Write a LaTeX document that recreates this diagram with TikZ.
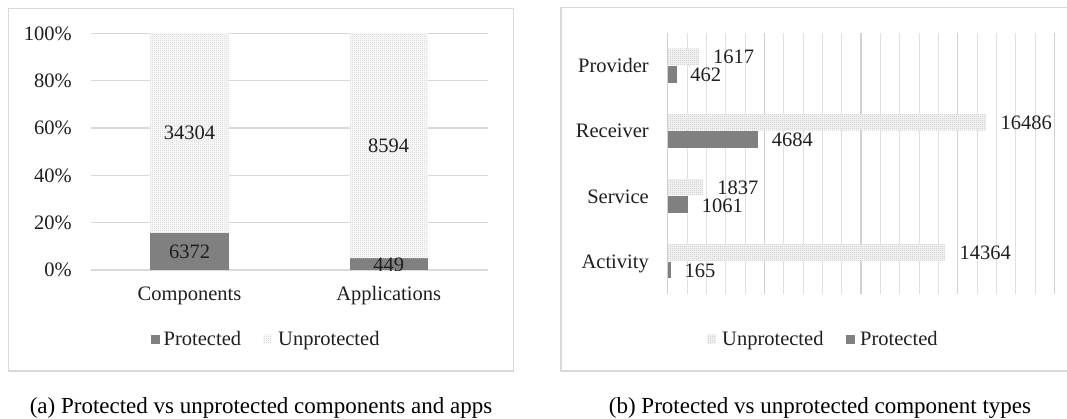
\documentclass[tikz,border=0pt]{standalone}
\usepackage{fontspec}
\setmainfont{Liberation Serif}
\usetikzlibrary{patterns}
\pgfdeclarepatternformonly{finedots}{\pgfpointorigin}{\pgfpoint{2pt}{2pt}}{\pgfpoint{2pt}{2pt}}{\pgfpathrectangle{\pgfpointorigin}{\pgfpoint{1pt}{1pt}}\pgfusepath{fill}}
\begin{document}
\begin{tikzpicture}[x=1pt,y=-1pt,
  frame/.style={draw=gray!30,line width=1.4pt},
  gridl/.style={draw=gray!30,line width=1.1pt},
  gridmin/.style={draw=gray!24,line width=1pt},
  gridmaj/.style={draw=gray!36,line width=1.3pt},
  prot/.style={fill=black!50},
  unprotL/.style={fill=gray!7,postaction={pattern=finedots,pattern color=gray!45}},
  unprotR/.style={fill=gray!12,postaction={pattern=finedots,pattern color=gray!62}},
  chtxt/.style={inner sep=0pt,text=black!88,font=\fontsize{20.5}{24}\selectfont},
  lab/.style={chtxt,anchor=base,yshift=-7pt},
  labE/.style={chtxt,anchor=base east,yshift=-7pt},
  labW/.style={chtxt,anchor=base west,yshift=-7pt},
  capt/.style={inner sep=0pt,anchor=base,font=\fontsize{23}{27}\selectfont}]
\useasboundingbox (0,0) rectangle (1067,419);
\fill[white] (0,0) rectangle (1067,419);

% ---------- panel (a) ----------
\draw[frame] (8.3,8.3) rectangle (513.3,371);
\foreach \p in {0,20,...,100}{
  \draw[gridl] (91,{270-2.3667*\p}) -- (488,{270-2.3667*\p});
  \node[labE] (ya\p) at (72,{270-2.3667*\p}) {\p\%};
}
% Components
\path[prot] (150,270) rectangle (229,232.9);
\path[unprotL] (150,232.9) rectangle (229,33.3);
% Applications
\path[prot] (349.5,270) rectangle (428,258.25);
\path[unprotL] (349.5,258.25) rectangle (428,33.3);
\node[lab] (uc) at (189.5,133) {34304};
\node[lab] (ua) at (388.7,145.6) {8594};
\begin{scope}
  \clip (91,30) rectangle (488,270.6);
  \node[lab] (pc) at (189.5,251.5) {6372};
  \node[lab] (pa) at (388.7,265) {449};
\end{scope}
\node[chtxt,anchor=base] (cc) at (189.5,300.5) {Components};
\node[chtxt,anchor=base] (ca) at (388.7,300.5) {Applications};
% legend
\path[prot] (150.5,334.5) rectangle (159.5,343.5);
\node[chtxt,anchor=base west] (lpa) at (163.5,345.5) {Protected};
\path[unprotL] (263,334.5) rectangle (272,343.5);
\node[chtxt,anchor=base west] (lua) at (278,345.5) {Unprotected};
\node[capt] (capa) at (261,413.5) {(a) Protected vs unprotected components and apps};

% ---------- panel (b) ----------
\draw[frame] (561,7.5) rectangle (1080,371);
\foreach \k in {1,2,3,4,6,7,8,9,11,12,13,14,16,17,18,19}{
  \draw[gridmin] ({667.7+19.333*\k},33) -- ({667.7+19.333*\k},294);
}
\foreach \k in {0,5,10,15,20}{
  \draw[gridmaj] ({667.7+19.333*\k},33) -- ({667.7+19.333*\k},294);
}
\foreach \n/\c/\u/\ut/\p/\pt in {Provider/65.6/1.617/1617/0.462/462,Receiver/130.9/16.486/16486/4.684/4684,Service/196.1/1.837/1837/1.061/1061,Activity/261.4/14.364/14364/0.165/165}{
  \pgfmathsetmacro{\xu}{667.7+19.333*\u}
  \pgfmathsetmacro{\xp}{667.7+19.333*\p}
  \path[unprotR] (667.7,{\c-17}) rectangle (\xu,{\c-0.7});
  \path[prot] (667.7,{\c+0.3}) rectangle (\xp,{\c+17});
  \node[labW] (u\n) at ({\xu+14},{\c-8.6}) {\ut};
  \node[labW] (p\n) at ({\xp+13.5},{\c+9}) {\pt};
  \node[labE] (y\n) at (649,\c) {\n};
}
% legend
\path[unprotR] (707,334.5) rectangle (716,343.5);
\node[chtxt,anchor=base west] (lub) at (722,345.5) {Unprotected};
\path[prot] (846,334.5) rectangle (855,343.5);
\node[chtxt,anchor=base west] (lpb) at (860,345.5) {Protected};
\node[capt] (capb) at (820,413.5) {(b) Protected vs unprotected component types};
\end{tikzpicture}
\end{document}
